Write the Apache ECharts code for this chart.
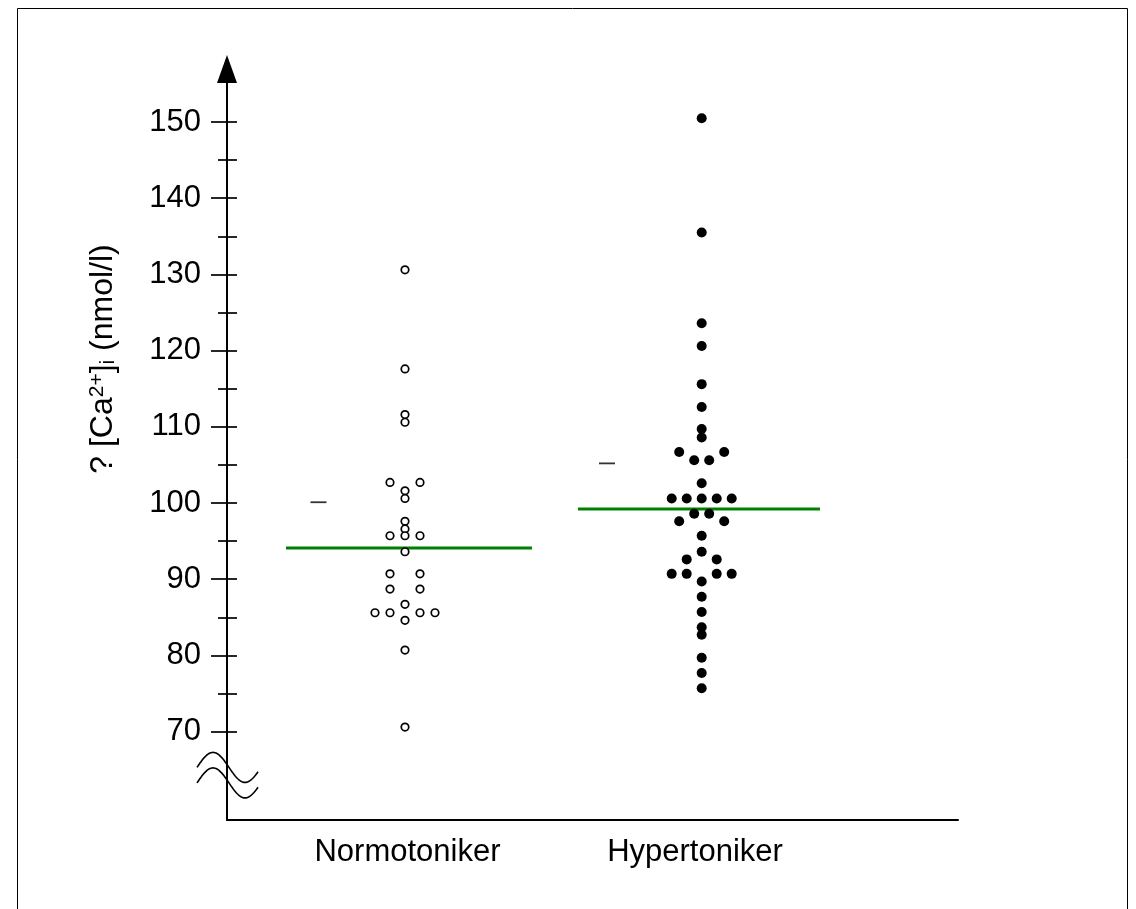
<!DOCTYPE html>
<html>
<head>
<meta charset="utf-8">
<script src="https://cdn.jsdelivr.net/npm/echarts@6/dist/echarts.min.js"></script>
<style>html,body{margin:0;padding:0;background:#fff;}#c{width:1136px;height:909px;}</style>
</head>
<body>
<div id="c"></div>
<script>
// ---- data ----
const categories = ['Normotoniker', 'Hypertoniker'];
const yMin = 70, yMax = 150, yStep = 10;
const normoValues = [130.6, 117.6, 111.6, 110.6, 102.7, 102.7, 101.6, 100.6, 97.6, 96.6, 95.7, 95.7, 95.7, 93.6, 90.7, 90.7, 88.7, 88.7, 86.7, 85.6, 85.6, 85.6, 85.6, 84.6, 80.7, 70.6];
const normoSlots  = [0, 0, 0, 0, -2, 2, 0, 0, 0, 0, -2, 0, 2, 0, -2, 2, -2, 2, 0, -4, -2, 2, 4, 0, 0, 0];
const hyperValues = [150.5, 135.5, 123.6, 120.6, 115.6, 112.6, 109.7, 108.6, 106.7, 106.7, 105.6, 105.6, 102.6, 100.6, 100.6, 100.6, 100.6, 100.6, 98.6, 98.6, 97.6, 97.6, 95.7, 93.6, 92.6, 92.6, 90.7, 90.7, 90.7, 90.7, 89.7, 87.7, 85.7, 83.7, 82.7, 79.7, 77.7, 75.7];
const hyperSlots  = [0, 0, 0, 0, 0, 0, 0, 0, -3, 3, -1, 1, 0, -4, -2, 0, 2, 4, -1, 1, -3, 3, 0, 0, -2, 2, -4, -2, 2, 4, 0, 0, 0, 0, 0, 0, 0, 0];
const groupMeans = [94.1, 99.2];
const dashValues = [100.1, 105.2];

// ---- layout (pixel-like x units along the axis) ----
const colCenter = [178, 474.7];
const slotUnit = 7.5;
const meanSpan = [[59, 305], [351, 593]];
const dashX = [91.5, 380];
const labelX = [180.5, 468];
const FONT = "'Liberation Sans', Arial, Helvetica, sans-serif";

function pts(vals, slots, g) {
  return vals.map((v, i) => [colCenter[g] + slots[i] * slotUnit, v]);
}

const chart = echarts.init(document.getElementById('c'), null, {renderer: 'canvas'});
const option = {
  backgroundColor: '#fff',
  animation: false,
  grid: [
    {left: 227, right: 178, top: 122, height: 609.6},
    {left: 227, right: 178, top: 69, bottom: 89}
  ],
  xAxis: [
    {gridIndex: 0, type: 'value', min: 0, max: 731, show: false},
    {gridIndex: 1, type: 'value', min: 0, max: 731,
      axisLine: {show: true, lineStyle: {color: '#000', width: 2}},
      axisTick: {show: false}, splitLine: {show: false},
      axisLabel: {show: true, customValues: labelX, margin: 17, color: '#000', fontSize: 31, fontFamily: FONT,
        formatter: function (v) { const i = labelX.indexOf(v); return i >= 0 ? categories[i] : ''; }}
    }
  ],
  yAxis: [
    {gridIndex: 0, type: 'value', position: 'left', min: yMin, max: yMax, interval: yStep,
      axisLine: {show: false}, splitLine: {show: false},
      axisTick: {show: true, inside: false, length: 16, lineStyle: {color: '#000', width: 1.7}},
      minorTick: {show: true, splitNumber: 2, length: 9, lineStyle: {color: '#000', width: 1.7}},
      axisLabel: {color: '#000', fontSize: 31, fontFamily: FONT, margin: 26, padding: [0, 0, 8, 0]}
    },
    {gridIndex: 0, type: 'value', position: 'left', min: yMin, max: yMax, interval: yStep,
      axisLine: {show: false}, splitLine: {show: false}, axisLabel: {show: false},
      axisTick: {show: true, inside: true, length: 10, lineStyle: {color: '#000', width: 1.7}},
      minorTick: {show: true, splitNumber: 2, length: 10, lineStyle: {color: '#000', width: 1.7}}
    },
    {gridIndex: 1, type: 'value', position: 'left', min: 0, max: 1,
      axisLine: {show: true, symbol: ['none', 'triangle'], symbolSize: [20, 28], lineStyle: {color: '#000', width: 2}},
      axisTick: {show: false}, axisLabel: {show: false}, splitLine: {show: false}
    }
  ],
  series: [
    {type: 'line', xAxisIndex: 0, yAxisIndex: 0, symbol: 'none', silent: true, z: 2,
      lineStyle: {color: '#008000', width: 3}, data: meanSpan[0].map(x => [x, groupMeans[0]])},
    {type: 'line', xAxisIndex: 0, yAxisIndex: 0, symbol: 'none', silent: true, z: 2,
      lineStyle: {color: '#008000', width: 3}, data: meanSpan[1].map(x => [x, groupMeans[1]])},
    {type: 'scatter', name: categories[0], xAxisIndex: 0, yAxisIndex: 0, clip: false, z: 3,
      symbol: 'circle', symbolSize: 7.5,
      itemStyle: {color: '#fff', borderColor: '#000', borderWidth: 1.7, opacity: 1},
      data: pts(normoValues, normoSlots, 0)},
    {type: 'scatter', name: categories[1], xAxisIndex: 0, yAxisIndex: 0, clip: false, z: 3,
      symbol: 'circle', symbolSize: 10,
      itemStyle: {color: '#000', opacity: 1},
      data: pts(hyperValues, hyperSlots, 1)},
    {type: 'scatter', xAxisIndex: 0, yAxisIndex: 0, clip: false, z: 3,
      symbol: 'rect', symbolSize: [16, 1.8], itemStyle: {color: '#000'},
      data: dashValues.map((v, i) => [dashX[i], v])}
  ]
};
chart.setOption(option);

// decorations: axis break, y title, frame
const ax = chart.convertToPixel({xAxisIndex: 0}, 0);
const yc = chart.convertToPixel({yAxisIndex: 0}, 64.25);
function wave(dy) {
  const p = [];
  for (let x = -30; x <= 31.5; x += 1) {
    p.push([ax + x, yc - 8 + dy - 15 * Math.sin(2 * Math.PI * (x + 30) / 64)]);
  }
  return p;
}
chart.setOption({
  graphic: [
    {type: 'rect', shape: {x: 17.5, y: 8.5, width: 1110, height: 1000}, style: {fill: 'none', stroke: '#000', lineWidth: 1}, silent: true},
    {type: 'polyline', shape: {points: wave(0)}, style: {stroke: '#000', lineWidth: 1.6, fill: 'none'}, silent: true},
    {type: 'polyline', shape: {points: wave(15.5)}, style: {stroke: '#000', lineWidth: 1.6, fill: 'none'}, silent: true},
    {type: 'text', x: 103, y: 359, rotation: Math.PI / 2, silent: true,
      style: {
        text: '{q|?} {t|[Ca}{sup|2+}{t|]}{sub|i}{t| (nmol/l)}',
        align: 'center', verticalAlign: 'middle', fill: '#000',
        fontFamily: FONT, fontSize: 32,
        rich: {
          q: {fontSize: 32, fontFamily: FONT, fill: '#000'},
          t: {fontSize: 32, fontFamily: FONT, fill: '#000'},
          sup: {fontSize: 21, fontFamily: FONT, fill: '#000', verticalAlign: 'top'},
          sub: {fontSize: 21, fontFamily: FONT, fill: '#000', verticalAlign: 'bottom'}
        }
      }
    }
  ]
});
</script>
</body>
</html>
